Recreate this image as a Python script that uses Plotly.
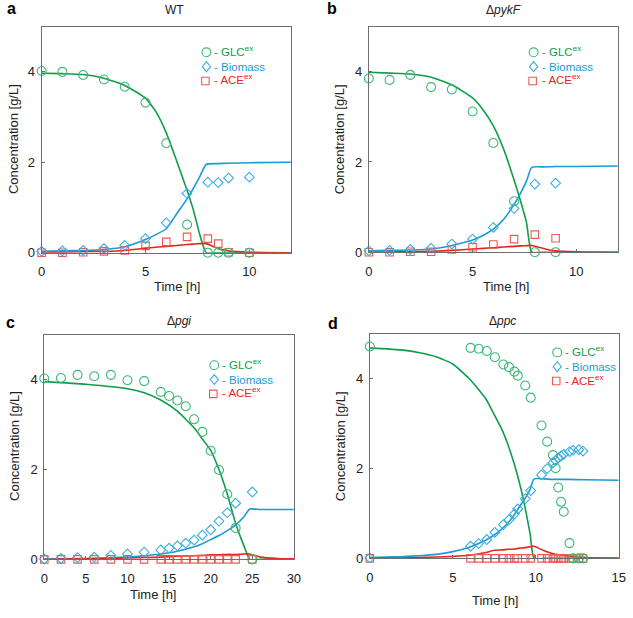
import plotly.graph_objects as go

W, H = 633, 618

# ---------------- data ----------------
# Panel a: WT
t_a = [0, 1, 2, 3, 4, 5, 6, 7, 8, 8.5, 9, 10]
glc_a = [4.02, 4.0, 3.93, 3.83, 3.67, 3.32, 2.42, 0.62, 0, 0, 0, 0]
bio_a = [0.03, 0.04, 0.05, 0.09, 0.16, 0.31, 0.66, 1.31, 1.56, 1.55, 1.65, 1.67]
ace_a = [0, 0, 0.01, 0.03, 0.05, 0.15, 0.24, 0.35, 0.31, 0.2, 0.01, 0]
tm_a = [0, 1, 2, 3, 4, 5, 5.5, 6, 6.5, 7, 7.3, 7.6, 7.92, 8.5, 9, 10, 12]
glc_ma = [3.97, 3.96, 3.94, 3.86, 3.70, 3.42, 3.12, 2.65, 2.03, 1.38, 0.95, 0.42, 0, 0, 0, 0, 0]
bio_ma = [0.03, 0.04, 0.05, 0.07, 0.13, 0.29, 0.40, 0.53, 0.86, 1.19, 1.42, 1.67, 1.95, 1.97, 1.98, 1.99, 2.0]
ace_ma = [0, 0.01, 0.02, 0.03, 0.05, 0.10, 0.12, 0.14, 0.16, 0.18, 0.19, 0.20, 0.20, 0.09, 0.04, 0.01, 0]

# Panel b: ΔpykF
t_b = [0, 1, 2, 3, 4, 5, 6, 7, 8, 9]
glc_b = [3.85, 3.82, 3.93, 3.66, 3.61, 3.12, 2.42, 1.13, 0, 0]
bio_b = [0.03, 0.04, 0.06, 0.09, 0.18, 0.29, 0.55, 0.97, 1.51, 1.53]
ace_b = [0, 0, 0.01, 0.01, 0.06, 0.11, 0.17, 0.29, 0.39, 0.31]
tm_b = [0, 1, 2, 3, 4, 5, 5.5, 6, 6.5, 7, 7.3, 7.6, 7.85, 8.5, 9, 10, 12]
glc_mb = [3.99, 3.97, 3.95, 3.88, 3.71, 3.42, 3.16, 2.80, 2.28, 1.60, 1.15, 0.65, 0, 0, 0, 0, 0]
bio_mb = [0.03, 0.04, 0.05, 0.07, 0.15, 0.27, 0.37, 0.51, 0.73, 1.06, 1.30, 1.58, 1.88, 1.89, 1.90, 1.90, 1.91]
ace_mb = [0, 0.005, 0.01, 0.02, 0.04, 0.07, 0.085, 0.10, 0.115, 0.13, 0.14, 0.145, 0.15, 0.07, 0.03, 0.01, 0]

# Panel c: Δpgi
t_c = [0, 2, 4, 6, 8, 10, 12, 14, 15, 16, 17, 18, 19, 20, 21, 22, 23, 25]
glc_c = [4.03, 4.04, 4.11, 4.08, 4.11, 3.99, 3.97, 3.73, 3.64, 3.54, 3.41, 3.12, 2.84, 2.42, 1.99, 1.45, 0.70, 0]
bio_c = [0.01, 0.02, 0.04, 0.05, 0.09, 0.12, 0.16, 0.21, 0.25, 0.30, 0.36, 0.43, 0.54, 0.66, 0.85, 1.04, 1.25, 1.50]
ace_c = [0, 0, 0, 0, 0, 0, 0, 0, 0, 0, 0, 0, 0, 0, 0, 0, 0, 0]
tm_c = [0, 5, 10, 12, 14, 16, 18, 19, 20, 21, 22, 23, 24, 24.7, 26, 28, 30]
glc_mc = [3.96, 3.90, 3.80, 3.71, 3.55, 3.30, 2.93, 2.68, 2.43, 2.00, 1.45, 0.80, 0.30, 0, 0, 0, 0]
bio_mc = [0.01, 0.02, 0.05, 0.08, 0.12, 0.18, 0.28, 0.35, 0.44, 0.53, 0.64, 0.77, 0.95, 1.12, 1.11, 1.11, 1.11]
ace_mc = [0, 0.01, 0.03, 0.04, 0.05, 0.07, 0.08, 0.09, 0.10, 0.10, 0.11, 0.11, 0.12, 0.12, 0.05, 0.02, 0.01]

# Panel d: Δppc
t_d = [0, 6.07, 6.56, 7.05, 7.54, 8.05, 8.39, 8.72, 8.92, 9.37, 9.7, 10.35, 10.69,
       11.04, 11.2, 11.36, 11.53, 11.69, 12.04, 12.25, 12.6, 12.85]
glc_d = [4.72, 4.69, 4.67, 4.62, 4.48, 4.32, 4.26, 4.16, 4.07, 3.85, 3.58, 2.96, 2.60,
         2.30, 2.01, 1.58, 1.26, 1.04, 0.34, 0, 0, 0]
bio_d = [0.01, 0.27, 0.33, 0.42, 0.58, 0.75, 0.86, 0.99, 1.10, 1.33, 1.51, 1.86, 2.00,
         2.13, 2.18, 2.24, 2.28, 2.32, 2.38, 2.41, 2.42, 2.39]
ace_d = [0] * 22
tm_d = [0, 2, 3, 4, 5, 6, 7, 7.5, 8, 8.28, 8.71, 9.11, 9.4, 9.66, 9.9, 10.5, 11, 12, 13, 15]
glc_md = [4.69, 4.64, 4.58, 4.49, 4.33, 4.00, 3.55, 3.20, 2.84, 2.58, 2.10, 1.55, 1.06, 0.55, 0, 0, 0, 0, 0, 0]
bio_md = [0.02, 0.04, 0.06, 0.09, 0.15, 0.25, 0.41, 0.52, 0.67, 0.77, 0.97, 1.20, 1.36, 1.53, 1.77, 1.77, 1.76, 1.76, 1.75, 1.74]
ace_md = [0, 0.01, 0.02, 0.03, 0.045, 0.07, 0.13, 0.18, 0.19, 0.20, 0.21, 0.23, 0.24, 0.26, 0.27, 0.17, 0.11, 0.05, 0.02, 0.005]

x_ranges = [[0, 12], [0, 12], [0, 30], [0, 15]]
x_ticks = [[0, 5, 10], [0, 5, 10], [0, 5, 10, 15, 20, 25, 30], [0, 5, 10, 15]]
y_ticks = [0, 2, 4]
titles = ["WT", "Δ<i>pykF</i>", "Δ<i>pgi</i>", "Δ<i>ppc</i>"]
letters = ["a", "b", "c", "d"]

# ---------------- styles ----------------
G_LINE, G_MK = "#0f9d4a", "#3cb878"
B_LINE, B_MK = "#1b9ad6", "#3aaee0"
R_LINE, R_MK = "#e5261f", "#ee5a52"
FONT = "Arial, Liberation Sans, sans-serif"
FRAME = "#6e6e6e"

def px(x):
    return x / W

def py(y):
    return 1 - y / H

# plot areas in pixels: (left, right, top, bottom)
boxes = [(38.3, 292.0, 27.0, 256.0), (371.3, 624.7, 27.0, 255.5),
         (41.0, 295.0, 339.3, 566.7), (372.3, 625.5, 338.3, 565.7)]

panels = [
    (t_a, glc_a, bio_a, ace_a, tm_a, glc_ma, bio_ma, ace_ma),
    (t_b, glc_b, bio_b, ace_b, tm_b, glc_mb, bio_mb, ace_mb),
    (t_c, glc_c, bio_c, ace_c, tm_c, glc_mc, bio_mc, ace_mc),
    (t_d, glc_d, bio_d, ace_d, tm_d, glc_md, bio_md, ace_md),
]

fig = go.Figure()
layout = dict(width=W, height=H, margin=dict(l=0, r=0, t=0, b=0),
              paper_bgcolor="white", plot_bgcolor="white", showlegend=False,
              font=dict(family=FONT, size=13, color="#222"))

for i, (t, g, b, a, tm, gm, bm, am) in enumerate(panels):
    k = "" if i == 0 else str(i + 1)
    xa, ya = "x" + k, "y" + k
    L, R, T, B = boxes[i]
    common = dict(showline=True, linecolor=FRAME, linewidth=1, mirror=True,
                  ticks="inside", ticklen=3, tickcolor=FRAME, showgrid=False,
                  zeroline=False, ticklabeloverflow="allow",
                  tickfont=dict(size=13, color="#222", family=FONT))
    layout["xaxis" + k] = dict(domain=[px(L), px(R)], anchor=ya, range=x_ranges[i],
                               tickvals=x_ticks[i], ticklabelstandoff=7, **common)
    layout["yaxis" + k] = dict(domain=[py(B), py(T)], anchor=xa, range=[0, 5],
                               tickvals=y_ticks, ticklabelstandoff=3, **common)
    # model lines
    for yy, col in ((gm, G_LINE), (bm, B_LINE), (am, R_LINE)):
        fig.add_trace(go.Scatter(x=tm, y=yy, mode="lines", xaxis=xa, yaxis=ya,
                                 line=dict(color=col, width=1.6, shape="spline", smoothing=0.5)))
    # experimental markers
    for yy, col, sym, sz in ((a, R_MK, "square-open", 7.5), (b, B_MK, "diamond-open", 7.5),
                             (g, G_MK, "circle-open", 9)):
        fig.add_trace(go.Scatter(x=t, y=yy, mode="markers", xaxis=xa, yaxis=ya, cliponaxis=False,
                                 marker=dict(symbol=sym, size=sz, color=col,
                                             line=dict(color=col, width=1.1))))

fig.update_layout(**layout)

# ---------------- annotations ----------------
ann = []
letter_pos = [(8, 9), (334, 9), (7, 327), (335, 328)]
title_pos = [(174, 10), (508, 10), (178, 325), (507, 325)]
ylab_pos = [(9, 141), (341, 141), (10, 452), (342, 452)]
xlab_pos = [(176, 290), (511, 290), (152, 602), (500, 608)]
legend_pos = [(206, 53), (539, 53), (214, 370), (563, 357)]

for i in range(4):
    ann.append(dict(text="<b>%s</b>" % letters[i], x=px(letter_pos[i][0]), y=py(letter_pos[i][1]),
                    xref="paper", yref="paper", showarrow=False, xanchor="center", yanchor="middle",
                    font=dict(size=16, color="black", family=FONT)))
    ann.append(dict(text=titles[i], x=px(title_pos[i][0]), y=py(title_pos[i][1]),
                    xref="paper", yref="paper", showarrow=False, xanchor="center", yanchor="middle",
                    font=dict(size=12, color="#222", family=FONT)))
    ann.append(dict(text="Concentration [g/L]", x=px(ylab_pos[i][0]), y=py(ylab_pos[i][1]),
                    xref="paper", yref="paper", showarrow=False, xanchor="center", yanchor="middle",
                    textangle=-90, font=dict(size=13, color="#222", family=FONT)))
    ann.append(dict(text="Time [h]", x=px(xlab_pos[i][0]), y=py(xlab_pos[i][1]),
                    xref="paper", yref="paper", showarrow=False, xanchor="center", yanchor="middle",
                    font=dict(size=13, color="#222", family=FONT)))
    lx, ly = legend_pos[i]
    for j, (txt, col) in enumerate((("- GLC<sup>ex</sup>", G_LINE), ("- Biomass", B_LINE),
                                    ("- ACE<sup>ex</sup>", R_LINE))):
        ann.append(dict(text=txt, x=px(lx + 6), y=py(ly + 14.5 * j + (0 if j == 1 else -1.5)),
                        xref="paper", yref="paper", showarrow=False, xanchor="left", yanchor="middle",
                        font=dict(size=11.5, color=col, family=FONT)))

fig.update_layout(annotations=ann)

# legend key symbols (paper shapes)
shapes = []
for i in range(4):
    lx, ly = legend_pos[i]
    cx = lx
    r = 4.5
    shapes.append(dict(type="circle", xref="paper", yref="paper",
                       x0=px(cx - r), x1=px(cx + r), y0=py(ly + r), y1=py(ly - r),
                       line=dict(color=G_MK, width=1.1)))
    yd = ly + 14.5
    hw, hh = 4.2, 5.0
    path = "M %f %f L %f %f L %f %f L %f %f Z" % (px(cx), py(yd - hh), px(cx + hw), py(yd),
                                                   px(cx), py(yd + hh), px(cx - hw), py(yd))
    shapes.append(dict(type="path", xref="paper", yref="paper", path=path,
                       line=dict(color=B_MK, width=1.1)))
    ys = ly + 29
    s = 3.8
    shapes.append(dict(type="rect", xref="paper", yref="paper",
                       x0=px(cx - s - 1), x1=px(cx + s - 1), y0=py(ys + s), y1=py(ys - s),
                       line=dict(color=R_MK, width=1.1)))
fig.update_layout(shapes=shapes)

fig.write_html("out.html", config={"displayModeBar": False},
               post_script="document.body.style.margin='0';document.body.style.overflow='hidden';")
